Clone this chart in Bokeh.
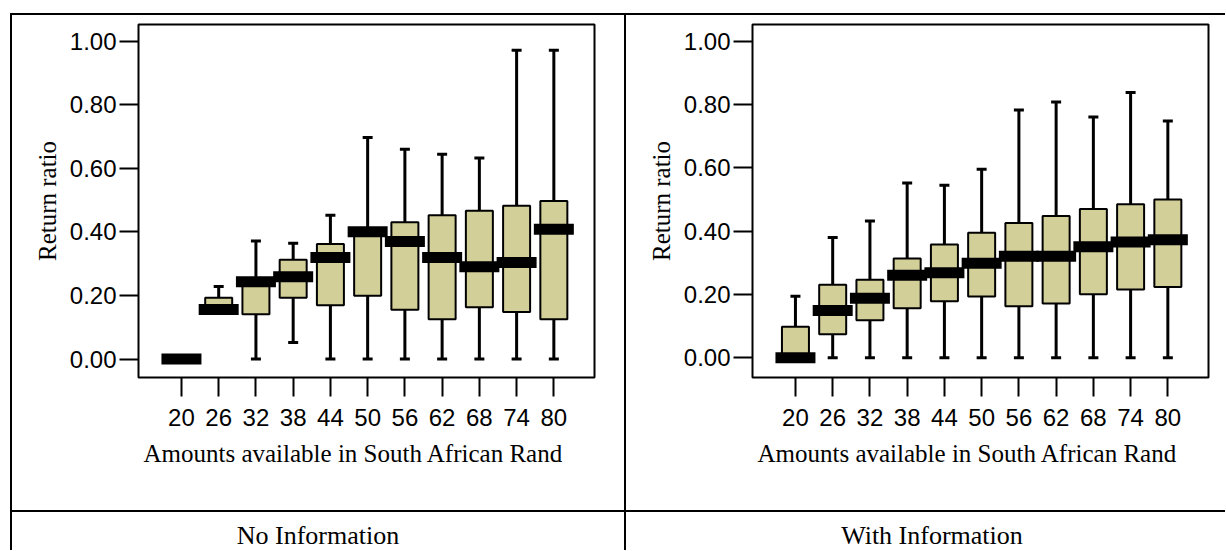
from bokeh.plotting import figure
from bokeh.models import (Range1d, FixedTicker, PrintfTickFormatter, Title, Div,
                          ColumnDataSource)
from bokeh.layouts import row, column
from bokeh.embed import file_html
from bokeh.resources import INLINE

# ---------------- data ----------------
amounts = [20, 26, 32, 38, 44, 50, 56, 62, 68, 74, 80]
y_ticks = [0.0, 0.2, 0.4, 0.6, 0.8, 1.0]

noinfo_low = [0.00, 0.150, 0.00, 0.052, 0.00, 0.00, 0.00, 0.00, 0.00, 0.00, 0.00]
noinfo_q1 = [0.00, 0.150, 0.141, 0.193, 0.169, 0.199, 0.155, 0.125, 0.163, 0.148, 0.125]
noinfo_median = [0.00, 0.156, 0.243, 0.259, 0.319, 0.400, 0.370, 0.319, 0.290, 0.304, 0.408]
noinfo_q3 = [0.00, 0.193, 0.245, 0.312, 0.362, 0.405, 0.430, 0.452, 0.466, 0.482, 0.497]
noinfo_high = [0.00, 0.228, 0.371, 0.364, 0.452, 0.697, 0.660, 0.644, 0.632, 0.971, 0.971]

info_low = [0.00, 0.00, 0.00, 0.00, 0.00, 0.00, 0.00, 0.00, 0.00, 0.00, 0.00]
info_q1 = [0.00, 0.075, 0.119, 0.157, 0.179, 0.194, 0.163, 0.172, 0.201, 0.216, 0.224]
info_median = [0.00, 0.150, 0.188, 0.261, 0.269, 0.299, 0.321, 0.321, 0.351, 0.366, 0.373]
info_q3 = [0.098, 0.231, 0.247, 0.314, 0.358, 0.395, 0.426, 0.448, 0.470, 0.485, 0.500]
info_high = [0.195, 0.380, 0.432, 0.552, 0.545, 0.596, 0.783, 0.808, 0.761, 0.838, 0.748]

x_label = "Amounts available in South African Rand"
y_label = "Return ratio"
captions = ["No Information", "With Information"]

BOX = "#D3CF98"
SANS = "Liberation Sans"
SERIF = "Liberation Serif"


def make_panel(low, q1, med, q3, high, yr, width, mb_right, mb_bottom):
    p = figure(width=width, height=495, output_backend="svg", toolbar_location=None,
               x_range=Range1d(13.08, 86.55), y_range=Range1d(*yr),
               min_border_left=126, min_border_right=mb_right,
               min_border_top=9, min_border_bottom=mb_bottom, title=None)
    p.xgrid.visible = False
    p.ygrid.visible = False
    p.outline_line_color = "black"
    p.outline_line_width = 2
    p.background_fill_color = "white"
    p.border_fill_color = "white"

    src = ColumnDataSource(dict(x=amounts, low=low, q1=q1, med=med, q3=q3, high=high))

    p.vbar(x="x", width=4.35, bottom="q1", top="q3", source=src,
           fill_color=BOX, line_color="black", line_width=2)
    p.segment(x0="x", y0="q3", x1="x", y1="high", source=src,
              line_color="black", line_width=3, line_cap="butt")
    p.segment(x0="x", y0="low", x1="x", y1="q1", source=src,
              line_color="black", line_width=3, line_cap="butt")
    p.rect(x="x", y="high", width=10, height=3, width_units="screen",
           height_units="screen", source=src, fill_color="black", line_color=None)
    p.rect(x="x", y="low", width=10, height=3, width_units="screen",
           height_units="screen", source=src, fill_color="black", line_color=None)
    p.rect(x="x", y="med", width=40, height=11, width_units="screen",
           height_units="screen", source=src, fill_color="black", line_color=None)

    for ax in (p.xaxis[0], p.yaxis[0]):
        ax.axis_line_color = None
        ax.major_tick_line_color = "black"
        ax.major_tick_line_width = 2
        ax.major_tick_in = 0
        ax.major_tick_out = 19
        ax.minor_tick_line_color = None
        ax.major_label_text_font = SANS
        ax.major_label_text_font_size = "24px"
        ax.major_label_text_color = "black"

    p.xaxis[0].ticker = FixedTicker(ticks=amounts)
    p.xaxis[0].major_label_standoff = 12
    p.yaxis[0].ticker = FixedTicker(ticks=y_ticks)
    p.yaxis[0].formatter = PrintfTickFormatter(format="%.2f")
    p.yaxis[0].major_label_standoff = 3
    p.yaxis[0].axis_label = y_label
    p.yaxis[0].axis_label_text_font = SERIF
    p.yaxis[0].axis_label_text_font_size = "25px"
    p.yaxis[0].axis_label_text_font_style = "normal"
    p.yaxis[0].axis_label_text_color = "black"
    p.yaxis[0].axis_label_standoff = 6

    t = Title(text=x_label, align="left", offset=5, vertical_align="top",
              text_font=SERIF, text_font_size="25px", text_font_style="normal",
              text_color="black", standoff=22)
    p.add_layout(t, "below")
    return p


pL = make_panel(noinfo_low, noinfo_q1, noinfo_median, noinfo_q3, noinfo_high,
                (-0.058, 1.052), 612, 30, 132)
pR = make_panel(info_low, info_q1, info_median, info_q3, info_high,
                (-0.062, 1.053), 599, 17, 133)

CAP_H = 38


def line(w, h):
    return Div(text="", width=w, height=h, margin=0,
               styles={"background-color": "black"})


def caption(text, w, shift):
    html = ('<div style="display:block; width:%dpx; font-family:\'Liberation Serif\'; '
            'font-size:26px; line-height:26px; color:black; text-align:center; '
            'padding-top:11px;">%s</div>' % (shift, text))
    return Div(text=html, width=w, height=CAP_H, margin=0,
               styles={"overflow": "visible"})


layout = column(
    line(1215, 2),
    row(line(2, 495), pL, line(2, 495), pR, spacing=0),
    line(1215, 2),
    row(line(2, CAP_H), caption(captions[0], 612, 612), line(2, CAP_H),
        caption(captions[1], 599, 612), spacing=0),
    spacing=0, margin=(13, 0, 0, 10))

open("out.html", "w").write(file_html(layout, INLINE))
